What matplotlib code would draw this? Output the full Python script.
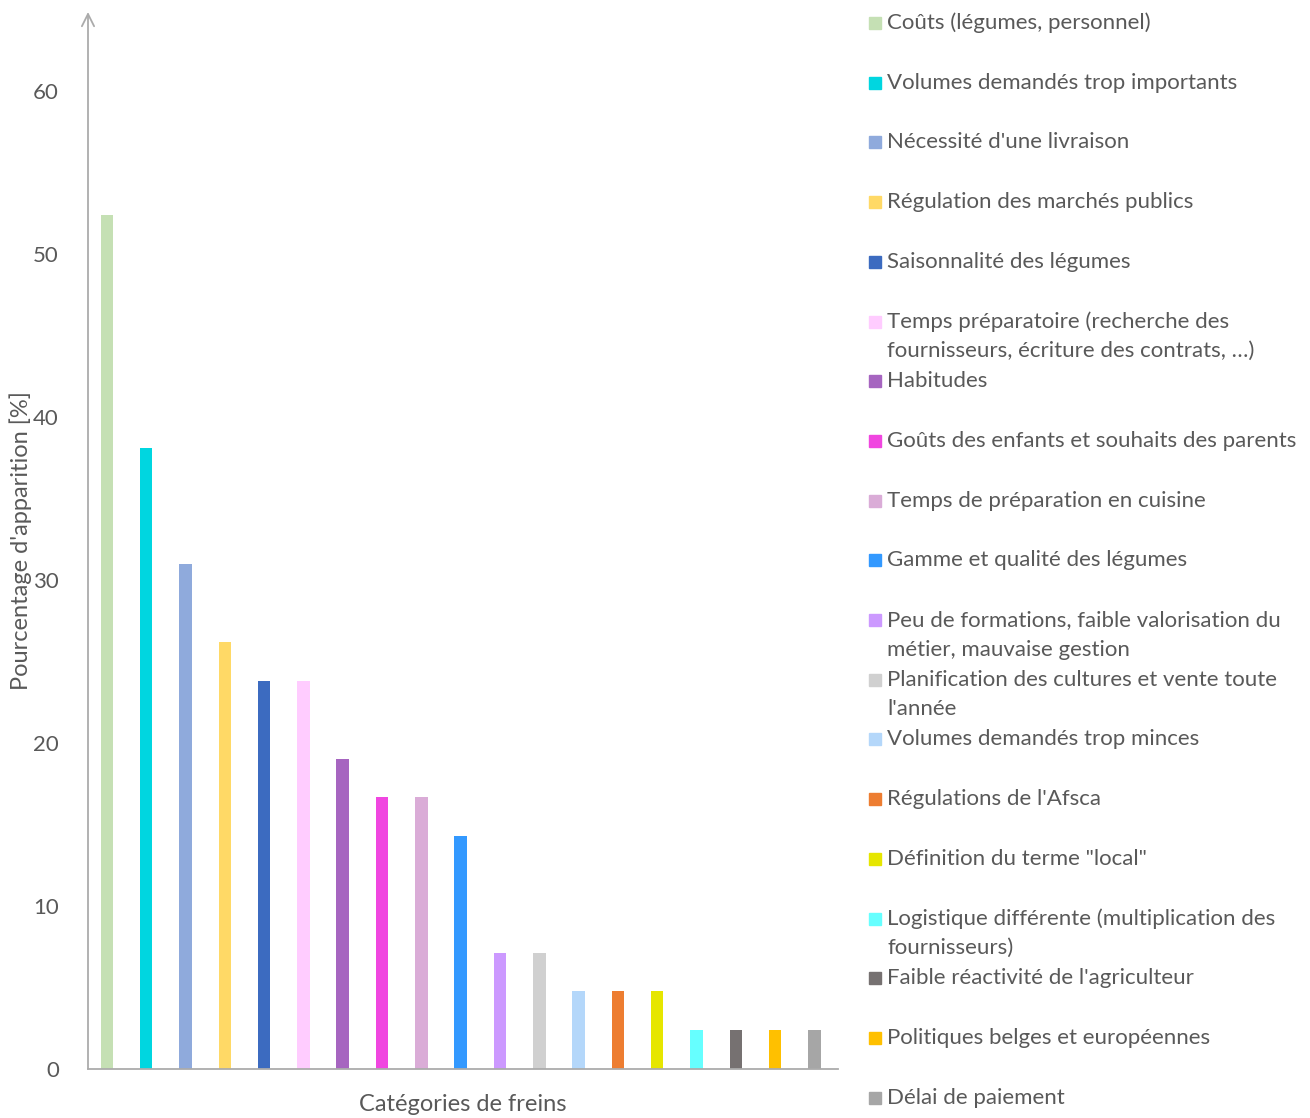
import matplotlib
matplotlib.use('Agg')
import matplotlib.pyplot as plt
import numpy as np

plt.rcParams['font.family'] = ['Lato', 'DejaVu Sans']

categories = [
    "Coûts (légumes, personnel)",
    "Volumes demandés trop importants",
    "Nécessité d'une livraison",
    "Régulation des marchés publics",
    "Saisonnalité des légumes",
    "Temps préparatoire (recherche des\nfournisseurs, écriture des contrats, …)",
    "Habitudes",
    "Goûts des enfants et souhaits des parents",
    "Temps de préparation en cuisine",
    "Gamme et qualité des légumes",
    "Peu de formations, faible valorisation du\nmétier, mauvaise gestion",
    "Planification des cultures et vente toute\nl'année",
    "Volumes demandés trop minces",
    "Régulations de l'Afsca",
    "Définition du terme \"local\"",
    "Logistique différente (multiplication des\nfournisseurs)",
    "Faible réactivité de l'agriculteur",
    "Politiques belges et européennes",
    "Délai de paiement",
]
values = [52.4, 38.1, 31.0, 26.2, 23.8, 23.8, 19.0, 16.7, 16.7, 14.3,
          7.1, 7.1, 4.8, 4.8, 4.8, 2.4, 2.4, 2.4, 2.4]
colors = ['#C5E0B4', '#00D6E0', '#8FAADC', '#FFD966', '#3C6BC0', '#FFCCFF',
          '#A665C0', '#F046E0', '#DAACD7', '#3399FF', '#CC99FF', '#D0D0D0',
          '#B4D7FA', '#ED7D31', '#E6E600', '#66FFFF', '#767171', '#FFC000',
          '#A6A6A6']
yticks = [0, 10, 20, 30, 40, 50, 60]

txt = '#595959'
axc = '#ABABAB'
fs = 16

fig = plt.figure(figsize=(13.1, 11.18), dpi=100)
ax = fig.add_axes([88/1310, 1 - 1069/1118, (838-88)/1310, (1069-12)/1118])

x = np.arange(len(values))
ax.bar(x, values, width=0.32, color=colors)
ax.set_xlim(-0.48, 18.6)
ax.set_ylim(0, 64.85)

for s in ['top', 'right', 'left']:
    ax.spines[s].set_visible(False)
ax.spines['bottom'].set_color(axc)
ax.spines['bottom'].set_linewidth(1.3)
ax.annotate('', xy=(0, 1), xytext=(0, 0), xycoords='axes fraction',
            arrowprops=dict(arrowstyle='->', color=axc, lw=1.3,
                            mutation_scale=22, shrinkA=0, shrinkB=0))

ax.set_xticks([])
ax.set_yticks(yticks)
ax.tick_params(axis='y', length=0, pad=21, labelsize=fs, labelcolor=txt)
ax.set_ylabel("Pourcentage d'apparition [%]", fontsize=17, color=txt)
ax.yaxis.set_label_coords(-0.074, 0.5)
ax.set_xlabel("Catégories de freins", fontsize=17, color=txt)
ax.xaxis.set_label_coords(0.5, -25/1057)

# legend drawn as a column of entries with fixed spacing
y0 = 23
step = 59.7
line_h = 29.5
for i, (lab, c) in enumerate(zip(categories, colors)):
    yc = y0 + i * step
    fig.patches.append(plt.Rectangle((869/1310, 1 - (yc + 6)/1118), 12/1310, 12/1118,
                                     transform=fig.transFigure, color=c, figure=fig))
    for k, line in enumerate(lab.split('\n')):
        fig.text(887/1310, 1 - (yc + k*line_h)/1118, line, fontsize=fs,
                 color=txt, va='center', ha='left')

fig.savefig('out.png', dpi=100)
